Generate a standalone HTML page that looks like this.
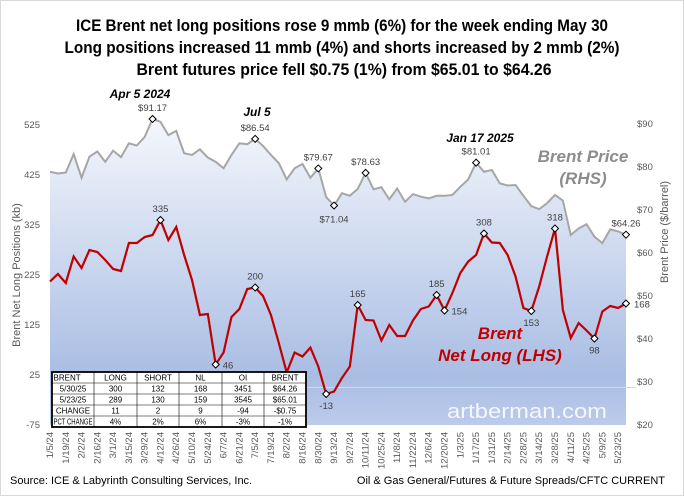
<!DOCTYPE html>
<html><head><meta charset="utf-8"><style>
body{margin:0;background:#fff;}
svg{display:block;font-family:"Liberation Sans",sans-serif;}
</style></head><body>
<svg id="chart" width="684" height="496" viewBox="0 0 684 496" xmlns="http://www.w3.org/2000/svg">
<defs>
<linearGradient id="bg" gradientUnits="userSpaceOnUse" x1="0" y1="110" x2="0" y2="425">
<stop offset="0" stop-color="#f7f9fd"/><stop offset="0.85" stop-color="#a9bde3"/><stop offset="1" stop-color="#bccbeb"/>
</linearGradient>
</defs>
<rect x="0.5" y="0.5" width="683" height="495" fill="#fff" stroke="#d9d9d9"/>
<g font-family="'Liberation Sans Narrow','Liberation Sans',sans-serif" font-weight="bold" font-size="17" fill="#000" text-anchor="middle">
<text x="342" y="31" textLength="532" lengthAdjust="spacingAndGlyphs">ICE Brent net long positions rose 9 mmb (6%) for the week ending May 30</text>
<text x="342" y="53" textLength="555" lengthAdjust="spacingAndGlyphs">Long positions increased 11 mmb (4%) and shorts increased by 2 mmb (2%)</text>
<text x="344" y="75" textLength="415" lengthAdjust="spacingAndGlyphs">Brent futures price fell $0.75 (1%) from $65.01  to $64.26</text>
</g>
<g id="plot"></g>
<text x="20" y="275" font-size="11" fill="#595959" text-anchor="middle" transform="rotate(-90 20 275)">Brent Net Long Positions (kb)</text>
<text x="668" y="232" font-size="11" fill="#595959" text-anchor="middle" transform="rotate(-90 668 232)">Brent Price ($/barrel)</text>
<text x="583" y="162" font-size="17" font-style="italic" font-weight="bold" fill="#8c8c8c" text-anchor="middle">Brent Price</text>
<text x="583" y="184" font-size="17" font-style="italic" font-weight="bold" fill="#8c8c8c" text-anchor="middle">(RHS)</text>
<text x="500" y="339" font-size="17" font-style="italic" font-weight="bold" fill="#c00000" text-anchor="middle">Brent</text>
<text x="500" y="361" font-size="17" font-style="italic" font-weight="bold" fill="#c00000" text-anchor="middle">Net Long (LHS)</text>
<text x="527" y="418" font-size="20" fill="#fff" fill-opacity="0.85" text-anchor="middle" textLength="160" lengthAdjust="spacingAndGlyphs">artberman.com</text>
<text x="140" y="98" font-size="12" font-style="italic" font-weight="bold" fill="#000" text-anchor="middle">Apr 5 2024</text>
<text x="257" y="116" font-size="12" font-style="italic" font-weight="bold" fill="#000" text-anchor="middle">Jul 5</text>
<text x="480" y="142" font-size="12" font-style="italic" font-weight="bold" fill="#000" text-anchor="middle">Jan 17 2025</text>
<text x="10" y="484" font-size="11" fill="#000">Source:  ICE &amp; Labyrinth Consulting Services, Inc.</text>
<text x="665" y="484" font-size="11" fill="#000" text-anchor="end">Oil &amp; Gas General/Futures &amp; Future Spreads/CFTC CURRENT</text>
<g id="table" font-size="8" fill="#000"></g>
</svg>
<script>
const netLong=[212,227,209,262,239,275,271,255,237,233,289,289,301,305,335,295,321,265,215,145,147,46,70,141,157,197,200,183,145,89,30,70,62,80,42,-13,-8,19,42,165,135,134,94,125,103,103,134,157,162,185,154,189,229,252,265,308,290,289,265,222,159,153,202,262,318,155,99,129,114,98,152,163,159,168];
const price=[78.9,78.5,78.7,83.0,77.5,82.4,83.6,81.2,83.8,82.3,85.5,85.0,87.0,91.17,90.5,87.4,88.4,83.2,82.8,84.1,82.2,81.2,79.7,82.8,85.5,85.3,86.54,84.9,82.8,80.9,77.1,79.7,80.7,77.5,79.67,73.0,71.04,73.9,73.3,74.9,78.63,74.8,75.3,72.5,75.0,71.9,73.7,73.1,72.7,73.3,73.3,73.5,75.4,77.1,81.01,78.9,79.3,76.2,75.7,75.8,73.3,70.9,70.2,71.6,73.5,72.2,64.2,65.7,66.7,63.8,62.3,65.5,65.01,64.26];
const dateLabels=["1/5/24","1/19/24","2/2/24","2/16/24","3/1/24","3/15/24","3/29/24","4/12/24","4/26/24","5/10/24","5/24/24","6/7/24","6/21/24","7/5/24","7/19/24","8/2/24","8/16/24","8/30/24","9/13/24","9/27/24","10/11/24","10/25/24","11/8/24","11/22/24","12/6/24","12/20/24","1/3/25","1/17/25","1/31/25","2/14/25","2/28/25","3/14/25","3/28/25","4/11/25","4/25/25","5/9/25","5/23/25"];
const leftTicks=[525,425,325,225,125,25,-75];
const rightTicks=[90,80,70,60,50,40,30,20];
const nlMarks=[14,21,26,35,39,49,50,55,61,64,69,73];
const priceMarks=[13,26,34,36,40,54,73];
const tableRows=[["BRENT","LONG","SHORT","NL","OI","BRENT"],["5/30/25","300","132","168","3451","$64.26"],["5/23/25","289","130","159","3545","$65.01"],["CHANGE","11","2","9","-94","-$0.75"],["PCT CHANGE","4%","2%","6%","-3%","-1%"]];

const NS="http://www.w3.org/2000/svg";
const X0=50,X1=626,N=netLong.length;
const xs=i=>X0+(X1-X0)*i/(N-1);
const yL=v=>387.5-v*0.5;
const yR=p=>425-(p-20)*4.3;
const plot=document.getElementById('plot');
function mk(tag,attrs,parent){const e=document.createElementNS(NS,tag);for(const k in attrs)e.setAttribute(k,attrs[k]);(parent||plot).appendChild(e);return e;}

let d=`M${xs(0)},425 `+price.map((p,i)=>`L${xs(i)},${yR(p)}`).join(' ')+` L${xs(N-1)},425 Z`;
const area=mk('path',{d:d,fill:'url(#bg)'});


const zl=mk('line',{x1:X0,x2:X1+10,y1:yL(0),y2:yL(0),stroke:'#d9d9d9','stroke-width':1});


const pl=mk('polyline',{points:price.map((p,i)=>`${xs(i)},${yR(p)}`).join(' '),fill:'none',stroke:'#a6a6a6','stroke-width':2});


const nl=mk('polyline',{points:netLong.map((v,i)=>`${xs(i)},${yL(v)}`).join(' '),fill:'none',stroke:'#c00000','stroke-width':2.2});


function diamond(x,y,name){const m=mk('polygon',{points:`${x},${y-3.5} ${x+3.5},${y} ${x},${y+3.5} ${x-3.5},${y}`,fill:'#fff',stroke:'#000','stroke-width':1});

}
function label(x,y,t,name,anchor){const e=mk('text',{x:x,y:y,'font-size':9.5,fill:'#404040','text-anchor':anchor||'middle'});e.textContent=t;

}
nlMarks.forEach(i=>{const x=xs(i),y=yL(netLong[i]);diamond(x,y,'net-long-marker');
let lx=x,ly=y-8,a='middle';
if([21,50].includes(i)){lx=x+7;ly=y+4;a='start';}
if(i===73){lx=x+8;ly=y+4;a='start';}
if([35,61,69].includes(i)){ly=y+15;}
label(lx,ly,String(netLong[i]),'net-long-value-label',a);});
priceMarks.forEach(i=>{const x=xs(i),y=yR(price[i]);diamond(x,y,'price-marker');
let ly=y-8;if(i===36)ly=y+17;
label(x,ly,'$'+price[i].toFixed(2),'price-value-label');});
leftTicks.forEach(v=>{const t=mk('text',{x:40,y:yL(v)+3,'font-size':9.5,fill:'#595959','text-anchor':'end'});t.textContent=v;

});
rightTicks.forEach(v=>{const t=mk('text',{x:637,y:yR(v)+3,'font-size':9.5,fill:'#595959'});t.textContent='$'+v;

});
dateLabels.forEach((s,k)=>{const x=xs(k*2)+3,y=432;const t=mk('text',{x:x,y:y,'font-size':9.5,fill:'#595959','text-anchor':'end',transform:`rotate(-90 ${x} ${y})`});t.textContent=s;

});

const tb=document.getElementById('table');
const cx=[52,94,137,179,222,264,306],ry=[372,383,394,405,416,427];
mk('rect',{x:52,y:372,width:254,height:55,fill:'#fff',stroke:'none'},tb);
tableRows.forEach((r,ri)=>r.forEach((c,ci)=>{const left=(ci===0&&(ri===0||ri===4));const attrs={x:left?cx[0]+1.5:(cx[ci]+cx[ci+1])/2,y:ry[ri]+8.5,'text-anchor':left?'start':'middle'};
if(ri===4&&ci===0){attrs.textLength=39;attrs.lengthAdjust='spacingAndGlyphs';}
const t=mk('text',attrs,tb);t.textContent=c;

}));
for(let i=1;i<6;i++)mk('line',{x1:cx[i],x2:cx[i],y1:372,y2:427,stroke:'#000','stroke-width':0.6},tb);
for(let j=1;j<5;j++)mk('line',{x1:52,x2:306,y1:ry[j],y2:ry[j],stroke:'#000','stroke-width':0.6},tb);
mk('rect',{x:52,y:372,width:254,height:55,fill:'none',stroke:'#000','stroke-width':1.8},tb);
</script>
</body></html>
